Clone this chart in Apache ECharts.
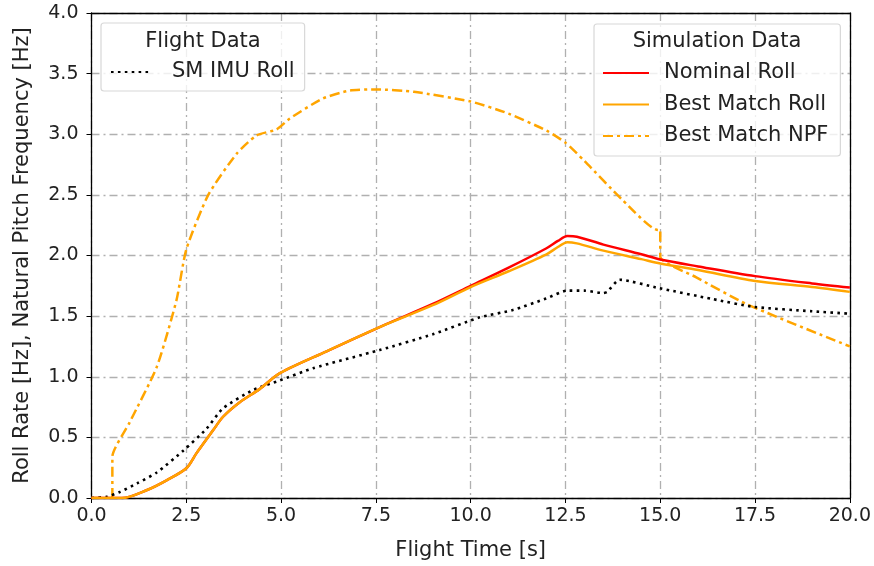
<!DOCTYPE html>
<html>
<head>
<meta charset="utf-8">
<script src="https://cdn.jsdelivr.net/npm/echarts@6/dist/echarts.min.js"></script>
<style>
  html, body {margin: 0; padding: 0; background: #fff;}
  #chart {width: 874px; height: 566px;}
</style>
</head>
<body>
<div id="chart"></div>
<script>
// roll rate curves (simulation)
var rollTime = [0, 0.8, 1.45, 1.98, 2.5, 2.77, 3.21, 3.47, 3.91, 4.44, 4.97, 6.2, 7.6, 9.0, 10.0, 11.0, 12.0, 12.3, 12.55, 12.8, 13.5, 14.5, 15.0, 16.0, 17.5, 19.0, 20.0];
var nominalRoll = [0, 0, 0.064, 0.146, 0.245, 0.37, 0.56, 0.67, 0.79, 0.90, 1.03, 1.21, 1.41, 1.60, 1.75, 1.90, 2.06, 2.12, 2.16, 2.155, 2.09, 2.01, 1.967, 1.91, 1.83, 1.77, 1.736];
var bestMatchRoll = [0, 0, 0.064, 0.146, 0.245, 0.37, 0.56, 0.67, 0.79, 0.90, 1.03, 1.21, 1.41, 1.59, 1.74, 1.87, 2.01, 2.07, 2.11, 2.10, 2.04, 1.97, 1.934, 1.88, 1.79, 1.74, 1.70];

// flight data
var imuTime = [0, 0.4, 0.75, 1.2, 1.72, 2.42, 3.03, 3.47, 4.26, 4.97, 5.84, 7.6, 9.0, 10.24, 11.11, 11.99, 12.54, 13.0, 13.49, 13.6, 13.93, 14.98, 16.39, 17.48, 19.0, 20.0];
var imuRoll = [0, 0.01, 0.05, 0.12, 0.21, 0.39, 0.57, 0.74, 0.89, 0.97, 1.07, 1.22, 1.35, 1.49, 1.55, 1.645, 1.71, 1.71, 1.69, 1.70, 1.80, 1.73, 1.64, 1.576, 1.54, 1.52];

// natural pitch frequency
var npfTime = [0, 0.55, 0.55, 1.0, 1.72, 2.24, 2.5, 3.08, 3.83, 4.35, 4.88, 5.23, 6.1, 6.81, 7.5, 8.5, 10.0, 11.0, 12.0, 12.5, 13.0, 14.01, 14.94, 15.0, 15.0, 15.95, 17.27, 20.0];
var npfValue = [0, 0, 0.34, 0.62, 1.08, 1.63, 2.05, 2.50, 2.84, 2.99, 3.04, 3.13, 3.295, 3.36, 3.37, 3.35, 3.27, 3.17, 3.03, 2.93, 2.78, 2.456, 2.21, 2.21, 1.99, 1.82, 1.60, 1.25];

var FONT = 'DejaVu Sans';
var TEXT = '#222';

var pairs = function (xs, ys) {
    var out = [];
    for (var i = 0; i < xs.length; i++) {
        out.push([xs[i], ys[i]]);
    }
    return out;
};

var oneDecimal = function (v) { return v.toFixed(1); };
var gridLine = {show: true, lineStyle: {color: '#b0b0b0', width: 1.3, type: [8, 4, 2, 4]}};
var frameLine = {show: true, onZero: false, lineStyle: {color: '#000', width: 1.3}};
var legendText = {fontFamily: FONT, fontSize: 21, lineHeight: 21, color: TEXT};

var chart = echarts.init(document.getElementById('chart'), null, {renderer: 'canvas'});

var option = {
    animation: false,
    backgroundColor: '#fff',
    textStyle: {fontFamily: FONT},
    grid: {left: 91.5, right: 24, top: 13, bottom: 68},
    xAxis: [{
        type: 'value', min: 0, max: 20, interval: 2.5,
        name: 'Flight Time [s]', nameLocation: 'middle', nameGap: 42,
        nameTextStyle: {fontFamily: FONT, fontSize: 21, color: TEXT},
        axisLine: frameLine,
        axisTick: {show: true, length: 5, lineStyle: {color: '#000'}},
        axisLabel: {fontFamily: FONT, fontSize: 19, color: TEXT, margin: 9, formatter: oneDecimal},
        splitLine: gridLine
    }, {
        type: 'value', min: 0, max: 20, position: 'top',
        axisLine: frameLine, axisTick: {show: false}, axisLabel: {show: false}, splitLine: {show: false}
    }],
    yAxis: [{
        type: 'value', min: 0, max: 4, interval: 0.5,
        name: 'Roll Rate [Hz], Natural Pitch Frequency [Hz]', nameLocation: 'middle', nameGap: 58, nameRotate: 90,
        nameTextStyle: {fontFamily: FONT, fontSize: 21, color: TEXT},
        axisLine: frameLine,
        axisTick: {show: true, length: 5, lineStyle: {color: '#000'}},
        axisLabel: {fontFamily: FONT, fontSize: 19, color: TEXT, margin: 13, formatter: oneDecimal},
        splitLine: gridLine
    }, {
        type: 'value', min: 0, max: 4, position: 'right',
        axisLine: frameLine, axisTick: {show: false}, axisLabel: {show: false}, splitLine: {show: false}
    }],
    legend: [
        {
            data: ['SM IMU Roll'], orient: 'vertical', left: 101, top: 23,
            padding: [38.5, 10, 8.5, 9], itemWidth: 38, itemHeight: 14, itemGap: 10,
            itemStyle: {opacity: 0},
            borderColor: '#d8d8d8', borderWidth: 1.2, borderRadius: 3, backgroundColor: 'rgba(255,255,255,0.8)',
            textStyle: Object.assign({padding: [0, 0, 0, 18]}, legendText)
        },
        {
            data: ['Nominal Roll', 'Best Match Roll', 'Best Match NPF'], orient: 'vertical', left: 594, top: 24,
            padding: [38.5, 12, 9.5, 8], itemWidth: 46, itemHeight: 14, itemGap: 10.5,
            itemStyle: {opacity: 0},
            borderColor: '#d8d8d8', borderWidth: 1.2, borderRadius: 3, backgroundColor: 'rgba(255,255,255,0.8)',
            textStyle: Object.assign({padding: [0, 0, 0, 10]}, legendText)
        }
    ],
    graphic: [
        {type: 'text', x: 203, y: 42, z: 100, style: {text: 'Flight Data', font: '21px "DejaVu Sans"', fill: TEXT, align: 'center', verticalAlign: 'middle'}},
        {type: 'text', x: 717, y: 42, z: 100, style: {text: 'Simulation Data', font: '21px "DejaVu Sans"', fill: TEXT, align: 'center', verticalAlign: 'middle'}}
    ],
    series: [
        {
            name: 'Best Match NPF', type: 'line', data: pairs(npfTime, npfValue), symbol: 'none', smooth: 0.2, z: 2,
            itemStyle: {color: '#ffa500'},
            lineStyle: {color: '#ffa500', width: 2.5, type: [10, 4, 3, 4]}
        },
        {
            name: 'SM IMU Roll', type: 'line', data: pairs(imuTime, imuRoll), symbol: 'none', smooth: 0.2, z: 3,
            itemStyle: {color: '#000'},
            lineStyle: {color: '#000', width: 2.6, type: [2.6, 4.3]}
        },
        {
            name: 'Nominal Roll', type: 'line', data: pairs(rollTime, nominalRoll), symbol: 'none', smooth: 0.3, z: 4,
            itemStyle: {color: '#ff0000'},
            lineStyle: {color: '#ff0000', width: 2.5}
        },
        {
            name: 'Best Match Roll', type: 'line', data: pairs(rollTime, bestMatchRoll), symbol: 'none', smooth: 0.3, z: 5,
            itemStyle: {color: '#ffa500'},
            lineStyle: {color: '#ffa500', width: 2.5}
        }
    ]
};

chart.setOption(option);
</script>
</body>
</html>
